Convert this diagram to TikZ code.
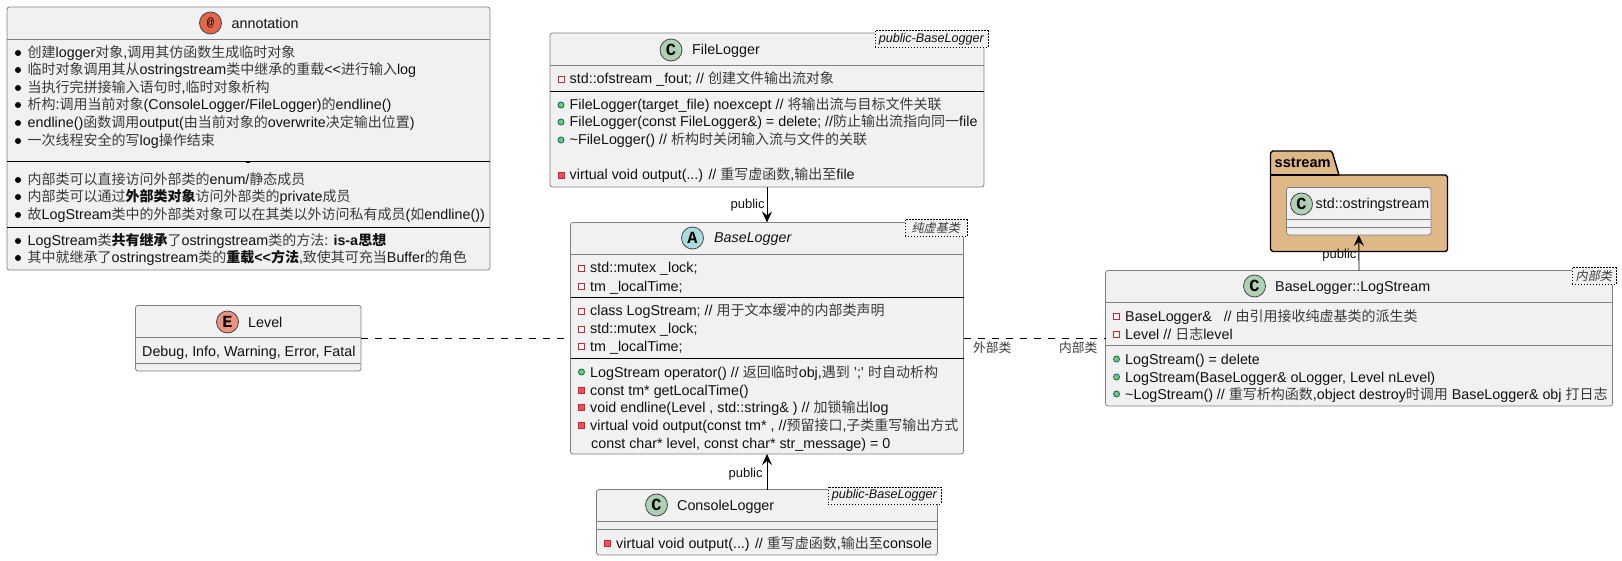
\documentclass[tikz,border=0pt]{standalone}
\usepackage{fontspec}
\usetikzlibrary{arrows.meta}
\setmainfont{Liberation Sans}
\newfontfamily\cjkf[Scale=0.979]{Noto Sans CJK SC}
\newfontfamily\cjki[Scale=0.96,FakeSlant=0.2]{Noto Sans CJK SC}
\newfontfamily\spotf{Liberation Mono}
\newcommand\zh[1]{{\cjkf\color{zhcol}#1}}
\newcommand\zi[1]{{\cjki\color{zhcol}#1}}
\newcommand\zb[1]{{\cjkf\bfseries #1}}
\definecolor{zhcol}{HTML}{3A3A3A}
\definecolor{boxfill}{HTML}{F1F1F1}
\definecolor{boxline}{HTML}{808080}
\definecolor{txt}{HTML}{111111}
\definecolor{spotline}{HTML}{454645}
\definecolor{cspot}{HTML}{ADD1B2}
\definecolor{aspot}{HTML}{A9DCDF}
\definecolor{espot}{HTML}{EB937F}
\definecolor{atspot}{HTML}{E3664A}
\definecolor{pkgfill}{HTML}{DEB887}
\definecolor{privline}{HTML}{C82930}
\definecolor{privfill}{HTML}{F24D5C}
\definecolor{publine}{HTML}{038048}
\definecolor{pubfill}{HTML}{84BE84}
\tikzset{
  x=1pt,y=-1pt,
  umlbox/.style={draw=boxline,fill=boxfill,rounded corners=2.5pt,line width=0.8pt,minimum width=#1,inner sep=0,outer sep=0},
  sepg/.style={draw=boxline,line width=0.8pt},
  sepk/.style={draw=black,line width=0.8pt},
  spot/.style={circle,draw=spotline,line width=0.8pt,minimum size=22pt,inner sep=0,font=\spotf\bfseries\fontsize{17}{17}\selectfont,text=black},
  title/.style={anchor=base west,inner sep=0,font=\fontsize{14.3}{16}\selectfont,text=txt},
  tl/.style={anchor=base west,inner sep=0,font=\fontsize{14.3}{16}\selectfont,text=txt},
  small/.style={anchor=base east,inner sep=0,font=\fontsize{13}{15}\selectfont,text=txt},
  tagbox/.style={draw=black,dash pattern=on 1.5pt off 1.5pt,line width=0.6pt,fill=boxfill,inner sep=0,anchor=north west,font=\itshape\fontsize{12.6}{14}\selectfont,text=txt},
  link/.style={draw=black,line width=0.9pt},
  dlink/.style={draw=black,line width=0.9pt,dash pattern=on 7pt off 7pt},
  vee/.style={-{Stealth[length=11pt,width=10pt,inset=4pt]}},
  iconpf/.style={rectangle,draw=privline,fill=white!50!boxfill,line width=0.9pt,minimum size=6pt,inner sep=0},
  iconpm/.style={rectangle,draw=privline,fill=privfill,line width=0.9pt,minimum size=6pt,inner sep=0},
  iconpu/.style={circle,draw=publine,fill=pubfill,line width=0.9pt,minimum size=6pt,inner sep=0},
  bul/.style={circle,fill=black,minimum size=6pt,inner sep=0},
}
\newcounter{tlc}
\newcommand\tl[3]{\stepcounter{tlc}\node[tl] (t\arabic{tlc}) at (#1,#2+5) {#3};}
\newcommand\ico[4]{\stepcounter{tlc}\node[#1] (i\arabic{tlc}) at (#2+11,#3) {};\tl{#2+19.5}{#3}{#4}}
\newcommand\bl[2]{\stepcounter{tlc}\node[bul] (b\arabic{tlc}) at (18,#1) {};\tl{27.5}{#1}{#2}}
\newcommand\tagb[5]{\node[tagbox,minimum width=#4,minimum height=17pt] (#1) at (#2,#3) {#5};}
\newcommand\seph[4]{\draw[#1] (#2,#4) -- (#3,#4);}
\begin{document}
\begin{tikzpicture}
\useasboundingbox (0,0) rectangle (1622,561);
% annotation
\node[umlbox=483pt,minimum height=263pt] (ann) at (248.5,138.5) {};
\seph{sepg}{7}{490}{39}
\seph{sepk}{7}{490}{161}
\seph{sepk}{7}{490}{227}
\draw[black,line width=0.8pt] (246,162.5) -- (250,162.5);
\node[spot,fill=atspot,minimum size=22pt,font=\spotf\fontsize{12}{12}\selectfont] (sa) at (210.5,23) {@};
\node[title] (ta) at (231.5,29) {annotation};
\bl{53}{\zh{创建}logger\zh{对象},\zh{调用其仿函数生成临时对象}}
\bl{70}{\zh{临时对象调用其从}ostringstream\zh{类中继承的重载}<{}<\zh{进行输入}log}
\bl{88}{\zh{当执行完拼接输入语句时},\zh{临时对象析构}}
\bl{105}{\zh{析构}:\zh{调用当前对象}(ConsoleLogger/FileLogger)\zh{的}endline()}
\bl{123}{endline()\zh{函数调用}output(\zh{由当前对象的}overwrite\zh{决定输出位置})}
\bl{141}{\zh{一次线程安全的写}log\zh{操作结束}}
\bl{180}{\zh{内部类可以直接访问外部类的}enum/\zh{静态成员}}
\bl{197}{\zh{内部类可以通过}\zb{外部类对象}\zh{访问外部类的}private\zh{成员}}
\bl{215}{\zh{故}LogStream\zh{类中的外部类对象可以在其类以外访问私有成员}(\zh{如}endline())}
\bl{241}{LogStream\zh{类}\zb{共有继承}\zh{了}ostringstream\zh{类的方法}: \textbf{is-a}\zb{思想}}
\bl{258}{\zh{其中就继承了}ostringstream\zh{类的}\zb{重载}\textbf{<{}<}\zb{方法},\zh{致使其可充当}Buffer\zh{的角色}}
% FileLogger
\node[umlbox=434pt,minimum height=154pt] (file) at (767,110) {};
\seph{sepg}{550}{984}{65}
\seph{sepk}{550}{984}{91}
\node[spot,fill=cspot] (sf) at (671,50) {C};
\node[title] (tf) at (692,55) {FileLogger};
\ico{iconpf}{550}{79}{std::ofstream \_fout; // \zh{创建文件输出流对象}}
\ico{iconpu}{550}{105}{FileLogger(target\_file) noexcept // \zh{将输出流与目标文件关联}}
\ico{iconpu}{550}{122}{FileLogger(const FileLogger\&) = delete; //\zh{防止输出流指向同一}file}
\ico{iconpu}{550}{140}{\textasciitilde FileLogger() // \zh{析构时关闭输入流与文件的关联}}
\ico{iconpm}{550}{175}{virtual void output(...) // \zh{重写虚函数},\zh{输出至}file}
\tagb{nf}{874.5}{30.5}{113pt}{public-BaseLogger}
% BaseLogger
\node[umlbox=393pt,minimum height=231.5pt] (base) at (767,338.25) {};
\seph{sepg}{570.5}{963.5}{254}
\seph{sepk}{570.5}{963.5}{297}
\seph{sepk}{570.5}{963.5}{358}
\node[spot,fill=aspot] (sb) at (692.5,238) {A};
\node[title,font=\itshape\fontsize{14.3}{16}\selectfont] (tb) at (714,243) {BaseLogger};
\ico{iconpf}{570.5}{268}{std::mutex \_lock;}
\ico{iconpf}{570.5}{286}{tm \_localTime;}
\ico{iconpf}{570.5}{311}{class LogStream; // \zh{用于文本缓冲的内部类声明}}
\ico{iconpf}{570.5}{329}{std::mutex \_lock;}
\ico{iconpf}{570.5}{346}{tm \_localTime;}
\ico{iconpu}{570.5}{372}{LogStream operator() // \zh{返回临时}obj,\zh{遇到} ';' \zh{时自动析构}}
\ico{iconpm}{570.5}{390}{const tm* getLocalTime()}
\ico{iconpm}{570.5}{407}{void endline(Level , std::string\& ) // \zh{加锁输出}log}
\ico{iconpm}{570.5}{425}{virtual void output(const tm* , //\zh{预留接口},\zh{子类重写输出方式}}
\tl{591}{443}{const char* level, const char* str\_message) = 0}
\tagb{nb}{904.5}{219.5}{62pt}{\zi{纯虚基类}}
% ConsoleLogger
\node[umlbox=341pt,minimum height=65.5pt] (con) at (767,522.25) {};
\seph{sepg}{596.5}{937.5}{521.5}
\seph{sepg}{596.5}{937.5}{529.5}
\node[spot,fill=cspot] (sc) at (656.5,505) {C};
\node[title] (tc) at (677,510) {ConsoleLogger};
\ico{iconpm}{596.5}{543}{virtual void output(...) // \zh{重写虚函数},\zh{输出至}console}
\tagb{nc}{827.5}{486.5}{113pt}{public-BaseLogger}
% Level
\node[umlbox=225.5pt,minimum height=65.5pt] (lev) at (248.25,338.25) {};
\seph{sepg}{135.5}{361}{337}
\seph{sepg}{135.5}{361}{363}
\node[spot,fill=espot] (sl) at (227.5,322) {E};
\node[title] (tt) at (248,327) {Level};
\tl{142}{351}{Debug, Info, Warning, Error, Fatal}
% package
\fill[pkgfill] (1270.5,175) -- (1270.5,153) -- (1272.5,151) -- (1330.5,151) -- (1332.5,153) -- (1339,175) -- (1445.5,175) -- (1447.5,177) -- (1447.5,249.5) -- (1445.5,251.5) -- (1272.5,251.5) -- (1270.5,249.5) -- cycle;
\draw[black,line width=1.4pt,line join=round] (1270.5,175) -- (1270.5,153) -- (1272.5,151) -- (1330.5,151) -- (1332.5,153) -- (1339,175) -- (1445.5,175) -- (1447.5,177) -- (1447.5,249.5) -- (1445.5,251.5) -- (1272.5,251.5) -- (1270.5,249.5) -- cycle;
\draw[black,line width=1.4pt] (1270.5,175) -- (1339,175);
\node[anchor=base west,inner sep=0,font=\bfseries\fontsize{14.6}{16}\selectfont] (ps) at (1274.5,168) {sstream};
\node[umlbox=144.5pt,minimum height=47.5pt] (ostr) at (1358.75,211.25) {};
\seph{sepg}{1286.5}{1431}{219.5}
\seph{sepg}{1286.5}{1431}{227.5}
\node[spot,fill=cspot] (so) at (1301.5,204) {C};
\node[title] (to) at (1315.5,209) {std::ostringstream};
% LogStream
\node[umlbox=507pt,minimum height=135.5pt] (str) at (1359,338.25) {};
\seph{sepg}{1105.5}{1612.5}{302}
\seph{sepg}{1105.5}{1612.5}{345.5}
\node[spot,fill=cspot] (ss) at (1254.5,286) {C};
\node[title] (ts) at (1275,291) {BaseLogger::LogStream};
\ico{iconpf}{1105.5}{316.5}{BaseLogger\&~~~// \zh{由引用接收纯虚基类的派生类}}
\ico{iconpf}{1105.5}{334}{Level // \zh{日志}level}
\ico{iconpu}{1105.5}{359}{LogStream() = delete}
\ico{iconpu}{1105.5}{377}{LogStream(BaseLogger\& oLogger, Level nLevel)}
\ico{iconpu}{1105.5}{394}{\textasciitilde LogStream() // \zh{重写析构函数},object destroy\zh{时调用} BaseLogger\& obj \zh{打日志}}
\tagb{ns}{1571.5}{267.5}{44pt}{\zi{内部类}}
% connectors
\draw[link,vee] (file.south) -- (base.north) node[small,pos=0.5,anchor=east,xshift=-2pt] (lb1) {public};
\draw[link,vee] (con.north) -- (base.south) node[small,pos=0.42,anchor=east,xshift=-4pt] (lb2) {public};
\draw[link,vee] (str.north) -- (ostr.south) node[small,pos=0.42,anchor=east,xshift=-2pt] (lb3) {public};
\draw[dlink] (lev.east) -- (base.west);
\draw[dlink] (base.east) -- (str.west);
\node[small,anchor=west] (ow) at (973,347.5) {\zh{外部类}};
\node[small,anchor=west] (in) at (1059,347.5) {\zh{内部类}};
\end{tikzpicture}
\end{document}
